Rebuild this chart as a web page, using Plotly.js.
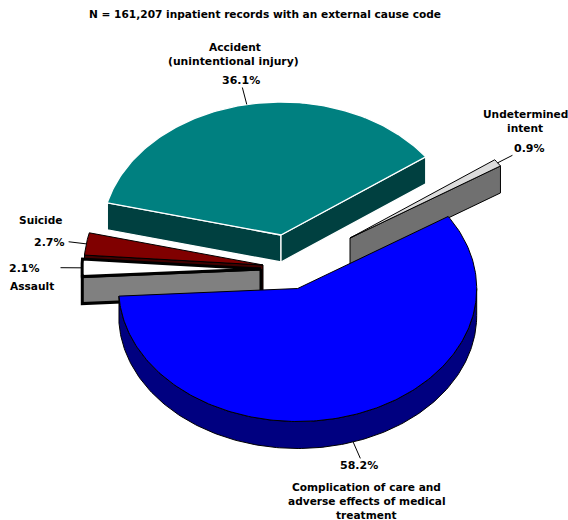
<!DOCTYPE html>
<html>
<head>
<meta charset="utf-8">
<script src="https://cdn.plot.ly/plotly-3.0.1.min.js"></script>
<style>html,body{margin:0;padding:0;background:#fff}#chart{width:568px;height:520px}</style>
</head>
<body>
<div id="chart"></div>
<script>
// Data, in clockwise pie order
const categories = ["Accident (unintentional injury)", "Undetermined intent", "Complication of care and adverse effects of medical treatment", "Assault", "Suicide"];
const shares = [36.1, 0.9, 58.2, 2.1, 2.7];
const percentLabels = ["36.1%", "0.9%", "58.2%", "2.1%", "2.7%"];
const chartTitle = "N = 161,207 inpatient records with an external cause code";

// Projection of the tilted pie onto the page axes
const RX = 179, RY = 133, DEPTH = 27, START_ANGLE = 166;
const leaderReach = [1.13, 1.1, 1.13, 1.12, 1.1];
const centres = [[281, 235], [350, 238], [297.7, 288.5], [261, 269], [263, 265]];
const topFill = ["#008080", "#dcdcdc", "#0000ff", "#ffffff", "#800000"];
const sideFill = ["#004040", "#707070", "#000080", "#808080", "#400000"];
const edgeCol = ["#ffffff", "#000000", "#000000", "#000000", "#000000"];
const edgeW = [1.3, 1, 1, 3, 1];

const rad = d => d * Math.PI / 180;
const total = shares.reduce((a, b) => a + b, 0);
let cursor = START_ANGLE;
const wedges = shares.map((s, i) => {
  const a0 = cursor, a1 = cursor - s / total * 360;
  cursor = a1;
  return {i, a0, a1, mid: (a0 + a1) / 2, c: centres[i]};
});
const pt = (w, a, f = 1, dz = 0) => [w.c[0] + RX * f * Math.cos(rad(a)), w.c[1] - RY * f * Math.sin(rad(a)) + dz];
function arc(w, from, to, dz = 0) {
  const n = Math.max(2, Math.ceil(Math.abs(from - to)));
  const out = [];
  for (let k = 0; k <= n; k++) out.push(pt(w, from + (to - from) * k / n, 1, dz));
  return out;
}
const traces = [];
function poly(points, fill, line, width) {
  const closed = points.concat([points[0]]);
  traces.push({
    type: "scatter", mode: "lines", fill: "toself", fillcolor: fill,
    x: closed.map(p => p[0]), y: closed.map(p => p[1]),
    line: {color: line, width: width, shape: "linear"}, hoverinfo: "skip", showlegend: false
  });
}
function radialFace(w, a) {
  const top = pt(w, a), c = w.c;
  poly([c, top, [top[0], top[1] + DEPTH], [c[0], c[1] + DEPTH]], sideFill[w.i], edgeCol[w.i], edgeW[w.i]);
}
function topFace(w) {
  poly([w.c].concat(arc(w, w.a0, w.a1)), topFill[w.i], edgeCol[w.i], edgeW[w.i]);
}
function rimFace(w, from, to) {
  poly(arc(w, from, to).concat(arc(w, to, from, DEPTH)), sideFill[w.i], edgeCol[w.i], edgeW[w.i]);
}
const [accident, undetermined, care, assault, suicide] = wedges;

radialFace(suicide, suicide.a0);
topFace(suicide);
radialFace(assault, assault.a0);
topFace(assault);
radialFace(accident, accident.a0);
radialFace(accident, accident.a1);
topFace(accident);
radialFace(undetermined, undetermined.a1);
topFace(undetermined);
rimFace(care, 0, care.a1);
topFace(care);

// Leader lines run radially out from each slice's mid angle
wedges.forEach(w => {
  const below = w.i === 2 ? DEPTH : 0;
  const a = pt(w, w.mid, 1, below), b = pt(w, w.mid, leaderReach[w.i], below);
  traces.push({type: "scatter", mode: "lines", x: [a[0], b[0]], y: [a[1], b[1]],
    line: {color: "#000", width: 1}, hoverinfo: "skip", showlegend: false});
});

const note = (x, y, text, size = 10.6) => ({x, y, text: "<b>" + text + "</b>", xref: "x", yref: "y", showarrow: false,
  xanchor: "center", yanchor: "middle", align: "center",
  font: {family: "DejaVu Sans, Verdana, sans-serif", size, color: "#000"}});
const PCT = 11;
const annotations = [
  note(264.5, 14, chartTitle),
  note(235, 47, "Accident"),
  note(233, 61, "(unintentional injury)", 10.8),
  note(241, 80, percentLabels[0], PCT),
  note(525, 114, "Undetermined"),
  note(525, 128, "intent"),
  note(529, 148, percentLabels[1], PCT),
  note(358.5, 465, percentLabels[2], PCT),
  note(366.5, 487, "Complication of care and"),
  note(366.5, 501, "adverse effects of medical"),
  note(366.5, 515, "treatment"),
  note(24.5, 268, percentLabels[3], PCT),
  note(32, 286, "Assault"),
  note(49, 242, percentLabels[4], PCT),
  note(40, 220, "Suicide")
];

Plotly.newPlot("chart", traces, {
  width: 568, height: 520,
  margin: {l: 0, r: 0, t: 0, b: 0},
  paper_bgcolor: "#fff", plot_bgcolor: "#fff", showlegend: false,
  xaxis: {range: [0, 568], visible: false, fixedrange: true},
  yaxis: {range: [520, 0], visible: false, fixedrange: true},
  annotations
}, {displayModeBar: false, staticPlot: true});
</script>
</body>
</html>
